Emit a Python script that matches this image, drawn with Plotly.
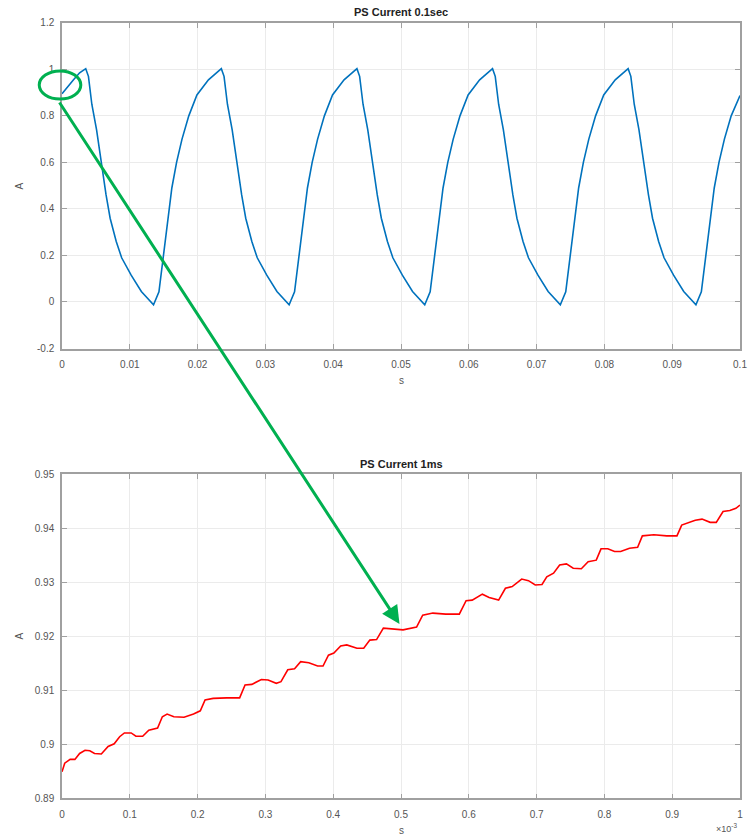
import plotly.graph_objects as go

# ---------------- data ----------------
# Top: PS current over 0.1 s (time in s, current in A)
top_t = [0.0000, 0.0008, 0.0017, 0.0026, 0.0035,
         0.0039, 0.0044, 0.0051, 0.0058, 0.0065, 0.0071, 0.0080, 0.0088, 0.0102, 0.0117, 0.0135,
         0.0143, 0.0150, 0.0157, 0.0162, 0.0169, 0.0177, 0.0187, 0.0199, 0.0216, 0.0235,
         0.0239, 0.0244, 0.0251, 0.0258, 0.0265, 0.0271, 0.0280, 0.0288, 0.0302, 0.0317, 0.0335,
         0.0343, 0.0350, 0.0357, 0.0362, 0.0369, 0.0377, 0.0387, 0.0399, 0.0416, 0.0435,
         0.0439, 0.0444, 0.0451, 0.0458, 0.0465, 0.0471, 0.0480, 0.0488, 0.0502, 0.0517, 0.0535,
         0.0543, 0.0550, 0.0557, 0.0562, 0.0569, 0.0577, 0.0587, 0.0599, 0.0616, 0.0635,
         0.0639, 0.0644, 0.0651, 0.0658, 0.0665, 0.0671, 0.0680, 0.0688, 0.0702, 0.0717, 0.0735,
         0.0743, 0.0750, 0.0757, 0.0762, 0.0769, 0.0777, 0.0787, 0.0799, 0.0816, 0.0835,
         0.0839, 0.0844, 0.0851, 0.0858, 0.0865, 0.0871, 0.0880, 0.0888, 0.0902, 0.0917, 0.0935,
         0.0943, 0.0950, 0.0957, 0.0962, 0.0969, 0.0977, 0.0987, 0.0999, 0.1000]
top_i = [0.895, 0.925, 0.955, 0.985, 1.003,
         0.97, 0.85, 0.74, 0.59, 0.46, 0.36, 0.26, 0.19, 0.115, 0.045, -0.012,
         0.044, 0.20, 0.36, 0.49, 0.60, 0.70, 0.80, 0.89, 0.955, 1.003,
         0.97, 0.85, 0.74, 0.59, 0.46, 0.36, 0.26, 0.19, 0.115, 0.045, -0.012,
         0.044, 0.20, 0.36, 0.49, 0.60, 0.70, 0.80, 0.89, 0.955, 1.003,
         0.97, 0.85, 0.74, 0.59, 0.46, 0.36, 0.26, 0.19, 0.115, 0.045, -0.012,
         0.044, 0.20, 0.36, 0.49, 0.60, 0.70, 0.80, 0.89, 0.955, 1.003,
         0.97, 0.85, 0.74, 0.59, 0.46, 0.36, 0.26, 0.19, 0.115, 0.045, -0.012,
         0.044, 0.20, 0.36, 0.49, 0.60, 0.70, 0.80, 0.89, 0.955, 1.003,
         0.97, 0.85, 0.74, 0.59, 0.46, 0.36, 0.26, 0.19, 0.115, 0.045, -0.012,
         0.044, 0.20, 0.36, 0.49, 0.60, 0.70, 0.80, 0.885, 0.887]

# Bottom: PS current over first 1 ms (time in units of 1e-3 s, current in A)
bot_t = [0.000, 0.004, 0.012, 0.019, 0.026, 0.034, 0.041, 0.048, 0.058, 0.068,
         0.077, 0.085, 0.092, 0.102, 0.109, 0.119, 0.128, 0.141, 0.148, 0.155,
         0.165, 0.180, 0.194, 0.204, 0.211, 0.223, 0.243, 0.262, 0.270, 0.280,
         0.294, 0.304, 0.316, 0.323, 0.333, 0.343, 0.352, 0.364, 0.377, 0.385,
         0.393, 0.401, 0.411, 0.420, 0.435, 0.445, 0.454, 0.464, 0.474, 0.489,
         0.503, 0.523, 0.532, 0.547, 0.566, 0.586, 0.596, 0.605, 0.620, 0.630,
         0.644, 0.654, 0.664, 0.678, 0.688, 0.698, 0.708, 0.715, 0.725, 0.734,
         0.744, 0.754, 0.766, 0.776, 0.788, 0.795, 0.805, 0.815, 0.824, 0.837,
         0.849, 0.856, 0.873, 0.892, 0.907, 0.914, 0.924, 0.934, 0.944, 0.956,
         0.965, 0.975, 0.985, 0.994, 1.000]
bot_i = [0.8949, 0.8965, 0.8972, 0.8972, 0.8983, 0.8989, 0.8988, 0.8983, 0.8982, 0.8996,
         0.9001, 0.9014, 0.9021, 0.9021, 0.9015, 0.9015, 0.9026, 0.9030, 0.9051, 0.9056,
         0.9051, 0.9050, 0.9056, 0.9062, 0.9082, 0.9085, 0.9086, 0.9086, 0.9110, 0.9111,
         0.9120, 0.9119, 0.9113, 0.9116, 0.9138, 0.9140, 0.9153, 0.9151, 0.9145, 0.9145,
         0.9165, 0.9169, 0.9182, 0.9184, 0.9178, 0.9178, 0.9193, 0.9194, 0.9215, 0.9214,
         0.9212, 0.9217, 0.9239, 0.9243, 0.9241, 0.9241, 0.9266, 0.9267, 0.9278, 0.9272,
         0.9267, 0.9289, 0.9292, 0.9306, 0.9303, 0.9295, 0.9296, 0.9310, 0.9317, 0.9332,
         0.9334, 0.9326, 0.9325, 0.9338, 0.9341, 0.9362, 0.9362, 0.9357, 0.9357, 0.9363,
         0.9365, 0.9386, 0.9388, 0.9386, 0.9386, 0.9406, 0.9411, 0.9415, 0.9417, 0.9411,
         0.9411, 0.9431, 0.9433, 0.9437, 0.9443]

top_xticks = [0, 0.01, 0.02, 0.03, 0.04, 0.05, 0.06, 0.07, 0.08, 0.09, 0.1]
top_xlabels = ["0", "0.01", "0.02", "0.03", "0.04", "0.05", "0.06", "0.07", "0.08", "0.09", "0.1"]
top_yticks = [-0.2, 0, 0.2, 0.4, 0.6, 0.8, 1.0, 1.2]
top_ylabels = ["-0.2", "0", "0.2", "0.4", "0.6", "0.8", "1", "1.2"]
bot_xticks = [0, 0.1, 0.2, 0.3, 0.4, 0.5, 0.6, 0.7, 0.8, 0.9, 1]
bot_xlabels = ["0", "0.1", "0.2", "0.3", "0.4", "0.5", "0.6", "0.7", "0.8", "0.9", "1"]
bot_yticks = [0.89, 0.90, 0.91, 0.92, 0.93, 0.94, 0.95]
bot_ylabels = ["0.89", "0.9", "0.91", "0.92", "0.93", "0.94", "0.95"]

# ---------------- figure ----------------
W, H = 752, 837
ML, MR, MT, MB = 62, 5, 20, 37
PH = H - MT - MB
PW = W - ML - MR

def py(pix):
    return 1 - (pix - MT) / PH

def px(pix):
    return (pix - ML) / PW

fig = go.Figure()
fig.add_trace(go.Scatter(x=top_t, y=top_i, mode="lines",
                         line=dict(color="#0072BD", width=1.6),
                         xaxis="x", yaxis="y", showlegend=False))
fig.add_trace(go.Scatter(x=bot_t, y=bot_i, mode="lines",
                         line=dict(color="#FF0000", width=1.6),
                         xaxis="x2", yaxis="y2", showlegend=False))

FONT = "Liberation Sans, Arial, sans-serif"
tickfont = dict(family=FONT, size=10, color="#555555")
axis_common = dict(showline=True, linecolor="#A0A0A0", linewidth=1.5, mirror="allticks",
                   ticks="inside", ticklen=5, tickcolor="#A0A0A0", tickwidth=1,
                   showgrid=True, gridcolor="#EBEBEB", gridwidth=1, zeroline=False,
                   tickfont=tickfont, tickmode="array", fixedrange=True)

fig.update_layout(
    width=W, height=H, autosize=False,
    margin=dict(l=ML, r=MR, t=MT, b=MB),
    paper_bgcolor="white", plot_bgcolor="white",
    xaxis=dict(axis_common, domain=[0, 1], range=[0, 0.1], anchor="y",
               tickvals=top_xticks, ticktext=top_xlabels, ticklabelstandoff=6),
    yaxis=dict(axis_common, domain=[py(348.5), py(22.8)], range=[-0.2, 1.2], anchor="x",
               tickvals=top_yticks, ticktext=top_ylabels, ticklabelstandoff=4),
    xaxis2=dict(axis_common, domain=[0, 1], range=[0, 1], anchor="y2",
                tickvals=bot_xticks, ticktext=bot_xlabels, ticklabelstandoff=6),
    yaxis2=dict(axis_common, domain=[py(798.3), py(474.3)], range=[0.89, 0.95], anchor="x2",
                tickvals=bot_yticks, ticktext=bot_ylabels, ticklabelstandoff=4),
)

ann = []
# titles
ann.append(dict(text="<b>PS Current 0.1sec</b>", x=0.5, y=py(12), xref="paper", yref="paper",
                showarrow=False, font=dict(family=FONT, size=11, color="#222222"),
                xanchor="center", yanchor="middle"))
ann.append(dict(text="<b>PS Current 1ms</b>", x=0.5, y=py(464), xref="paper", yref="paper",
                showarrow=False, font=dict(family=FONT, size=11, color="#222222"),
                xanchor="center", yanchor="middle"))
# axis labels
for yy in (380, 830):
    ann.append(dict(text="s", x=0.5, y=py(yy), xref="paper", yref="paper", showarrow=False,
                    font=dict(family=FONT, size=10, color="#555555"),
                    xanchor="center", yanchor="middle"))
for yy in (186, 636):
    ann.append(dict(text="A", x=px(19), y=py(yy), xref="paper", yref="paper", showarrow=False,
                    textangle=-90, font=dict(family=FONT, size=10, color="#555555"),
                    xanchor="center", yanchor="middle"))
# exponent label
ann.append(dict(text="\u00d710<sup>-3</sup>", x=px(746), y=py(828), xref="paper", yref="paper",
                showarrow=False, font=dict(family=FONT, size=9, color="#555555"),
                xanchor="right", yanchor="middle"))
# green arrow
ann.append(dict(text="", x=px(403), y=py(624), xref="paper", yref="paper",
                ax=62 - 403, ay=101 - 624, axref="pixel", ayref="pixel",
                showarrow=True, arrowhead=2, arrowsize=1.2, arrowwidth=3,
                arrowcolor="#00B050", standoff=0))
fig.update_layout(annotations=ann)

fig.add_shape(type="circle", xref="paper", yref="paper",
              x0=px(39), x1=px(81), y0=py(99), y1=py(71),
              line=dict(color="#00B050", width=3))

fig.write_html("out.html")
